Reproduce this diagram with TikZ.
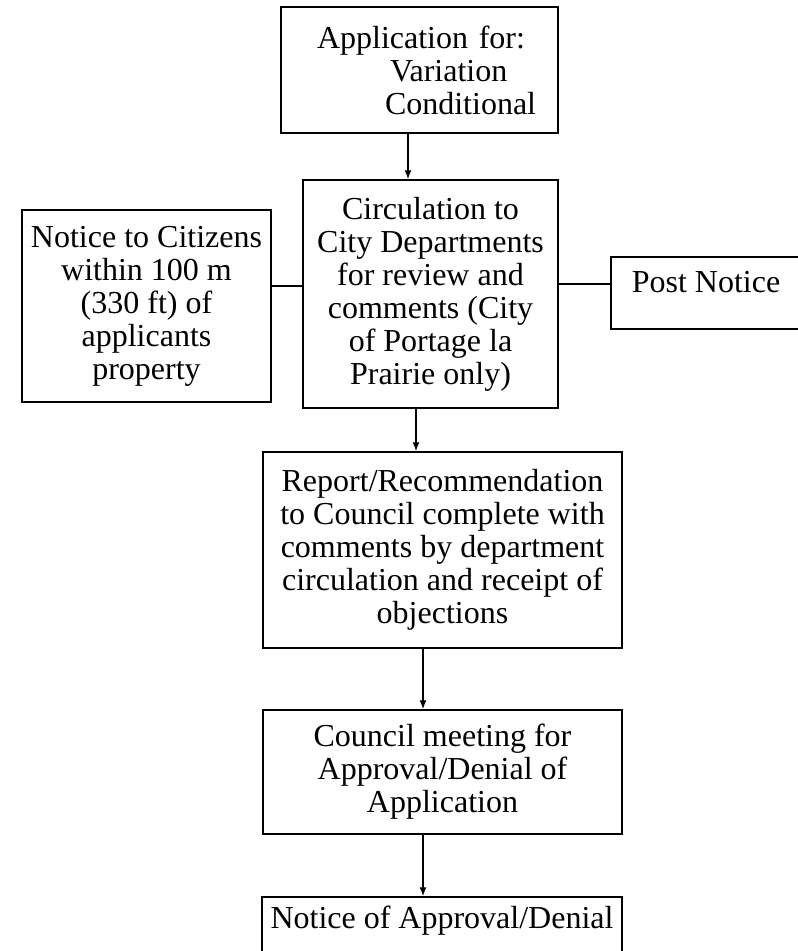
\documentclass[tikz,border=0pt]{standalone}
\usepackage{fontspec}
\setmainfont{Liberation Serif}
\usetikzlibrary{calc,arrows.meta}

\begin{document}
\begin{tikzpicture}[x=1pt,y=-1pt,
  box/.style={draw,line width=1.5pt,inner sep=0pt,align=center,font=\fontsize{32}{33}\selectfont},
  link/.style={line width=1.3pt},
  arr/.style={line width=1.3pt,-{Latex[length=9pt,width=7pt]}}]
  \useasboundingbox (0,0) rectangle (798,951);

  \node[box,minimum width=277pt,minimum height=126pt,text width=277pt,align=left] (app) at (419.5,70)
    {\hspace*{36pt}\mbox{Application for:}\\ \hspace*{109pt}Variation\\ \hspace*{104pt}Conditional};
  \node[box,minimum width=255pt,minimum height=228pt] (circ) at (430.5,294)
    {Circulation to\\ City Departments\\ for review and\\ comments (City\\ of Portage la\\ Prairie only)};
  \node[box,minimum width=249pt,minimum height=192pt] (cit) at (146.5,306)
    {Notice to Citizens\\ within 100 m\\ (330 ft) of\\ applicants\\ property};
  \node[box,minimum width=190pt,minimum height=72pt,text height=22pt,text depth=24pt] (post) at (706,293)
    {Post Notice};
  \node[box,minimum width=359pt,minimum height=196pt] (rep) at (442.5,550)
    {Report/Recommendation\\ to Council complete with\\ comments by department\\ circulation and receipt of\\ objections};
  \node[box,minimum width=359pt,minimum height=124pt] (meet) at (442.5,772)
    {Council meeting for\\ Approval/Denial of\\ Application};
  \node[box,minimum width=360pt,minimum height=72pt,text height=22pt,text depth=32pt] (final) at (442,933)
    {Notice of Approval/Denial};

  % flow down the middle
  \draw[arr] ([xshift=-11.5pt]app.south) -- ([xshift=-11.5pt]app.south |- circ.north);
  \draw[arr] ([xshift=-14.5pt]circ.south) -- ([xshift=-14.5pt]circ.south |- rep.north);
  \draw[arr] ([xshift=-19.5pt]rep.south) -- ([xshift=-19.5pt]rep.south |- meet.north);
  \draw[arr] ([xshift=-19.5pt]meet.south) -- ([xshift=-19.5pt]meet.south |- final.north);

  % side notices
  \draw[link] ([yshift=20pt]cit.east) -- ([yshift=20pt]cit.east -| circ.west);
  \draw[link] ([yshift=9pt]post.west) -- ([yshift=9pt]post.west -| circ.east);
\end{tikzpicture}
\end{document}
